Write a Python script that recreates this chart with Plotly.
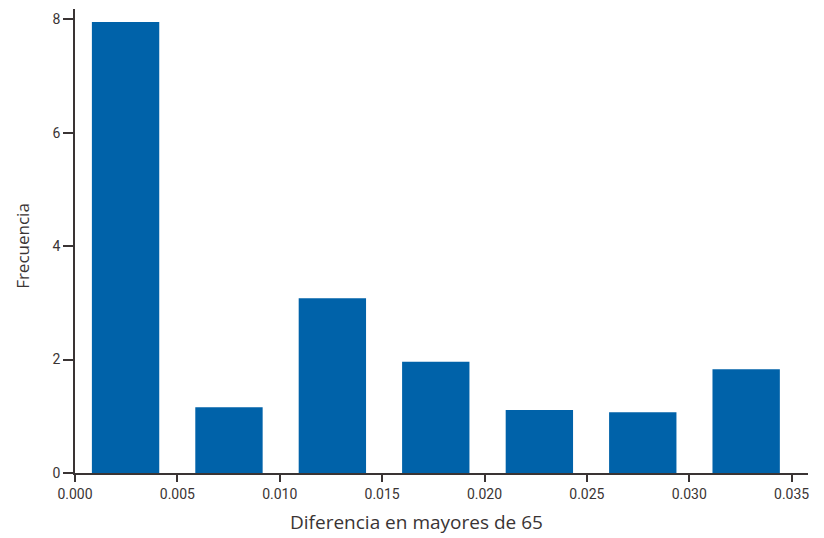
import plotly.graph_objects as go

bin_centers = [0.00247, 0.00752, 0.01257, 0.01762, 0.02268, 0.02773, 0.03278]
frequencies = [7.95, 1.16, 3.08, 1.96, 1.11, 1.07, 1.83]
x_ticks = [0.000, 0.005, 0.010, 0.015, 0.020, 0.025, 0.030, 0.035]
x_tick_labels = ["0.000", "0.005", "0.010", "0.015", "0.020", "0.025", "0.030", "0.035"]
y_ticks = [0, 2, 4, 6, 8]

tick_font = dict(family="Roboto, Open Sans, sans-serif", size=14, color="#3a3434")
title_family = "Open Sans, Noto Sans, sans-serif"

fig = go.Figure(
    go.Bar(
        x=bin_centers,
        y=frequencies,
        width=0.00329,
        marker=dict(color="#0062A9", line=dict(width=0)),
    )
)

# page body adds an 8px offset, margins compensate for it
fig.update_layout(
    template="plotly_white",
    width=824,
    height=538,
    margin=dict(l=67, r=24, t=1, b=73),
    plot_bgcolor="white",
    paper_bgcolor="white",
    showlegend=False,
)

# axis titles as annotations so they sit where the original has them
fig.add_annotation(
    text="Diferencia en mayores de 65",
    xref="paper", yref="paper",
    x=0.466, y=-0.106,
    xanchor="center", yanchor="middle",
    showarrow=False,
    font=dict(family=title_family, size=19, color="#3a3434"),
)
fig.add_annotation(
    text="Frecuencia",
    xref="paper", yref="paper",
    x=-0.072, y=0.49,
    xanchor="center", yanchor="middle",
    textangle=-90,
    showarrow=False,
    font=dict(family=title_family, size=17, color="#3a3434"),
)

fig.update_xaxes(
    range=[0, 0.0358],
    tickvals=x_ticks,
    ticktext=x_tick_labels,
    ticks="outside",
    ticklen=7,
    tickwidth=1.5,
    tickcolor="#3a3434",
    showline=True,
    linecolor="#3a3434",
    linewidth=1.5,
    showgrid=False,
    zeroline=False,
    automargin=False,
    tickfont=tick_font,
)

fig.update_yaxes(
    range=[0, 8.18],
    tickvals=y_ticks,
    ticks="outside",
    ticklen=10,
    tickwidth=1.5,
    tickcolor="#3a3434",
    showline=True,
    linecolor="#3a3434",
    linewidth=1.5,
    showgrid=False,
    zeroline=False,
    automargin=False,
    tickfont=tick_font,
)

fig.write_html("out.html")
